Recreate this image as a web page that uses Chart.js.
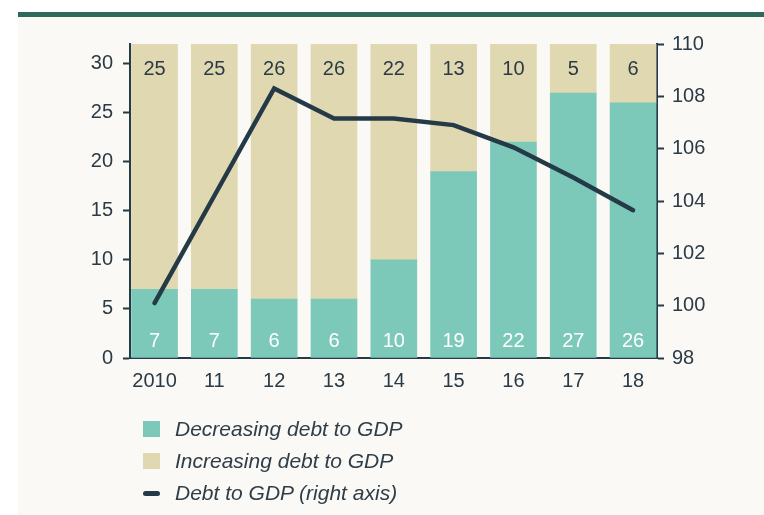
<!DOCTYPE html>
<html>
<head>
<meta charset="utf-8">
<script src="https://cdn.jsdelivr.net/npm/chart.js@4.4.1/dist/chart.umd.min.js"></script>
<style>
  html, body { margin: 0; padding: 0; background: #ffffff; }
  #wrap { position: relative; width: 764px; height: 515px; overflow: hidden; background: #ffffff; }
  #panel { position: absolute; left: 18px; top: 12px; width: 746px; height: 503px; background: #faf9f5; }
  #band { position: absolute; left: 18px; top: 12px; width: 746px; height: 5px; background: #2d6a5b; }
  #chart { position: absolute; left: 0; top: 0; width: 764px; height: 515px; }
  #legend { position: absolute; left: 143px; top: 417px; font-family: "Liberation Sans", Arial, sans-serif; font-style: italic; font-size: 21px; color: #2e3d48; }
  .row { position: relative; height: 32px; line-height: 24px; padding-left: 32px; white-space: nowrap; }
  .sw { position: absolute; left: 0; top: 4px; width: 17px; height: 16px; }
  .ln { position: absolute; left: 0; top: 10px; width: 17px; height: 5px; border-radius: 3px; }
</style>
</head>
<body>
<div id="wrap">
  <div id="panel"></div>
  <div id="band"></div>
  <canvas id="chart" width="764" height="515"></canvas>
  <div id="legend"></div>
</div>
<script>
// ---- data ----
const categories = ["2010", "11", "12", "13", "14", "15", "16", "17", "18"];
const decreasing = [7, 7, 6, 6, 10, 19, 22, 27, 26];
const increasing = [25, 25, 26, 26, 22, 13, 10, 5, 6];
const debtToGdp = [100.1, 104.2, 108.3, 107.15, 107.15, 106.9, 106.05, 104.9, 103.65];
const leftTicks = [0, 5, 10, 15, 20, 25, 30];
const rightTicks = [98, 100, 102, 104, 106, 108, 110];
const seriesNames = ["Decreasing debt to GDP", "Increasing debt to GDP", "Debt to GDP (right axis)"];

const TEAL = "#7cc9b9", BEIGE = "#e0d8b1", DARK = "#243b47", TEXT = "#2b3a45";
const FONT = "'Liberation Sans', Arial, sans-serif";

const pts = arr => arr.map((v, i) => ({ x: i, y: v }));

const labelPlugin = {
  id: "barLabels",
  afterDatasetsDraw(chart) {
    const ctx = chart.ctx, area = chart.chartArea;
    ctx.save();
    ctx.font = "20px " + FONT;
    ctx.textAlign = "center";
    ctx.textBaseline = "middle";
    const m0 = chart.getDatasetMeta(0), m1 = chart.getDatasetMeta(1);
    m0.data.forEach((el, i) => {
      ctx.fillStyle = "#ffffff";
      ctx.fillText(String(decreasing[i]), el.x, area.bottom - 17);
    });
    m1.data.forEach((el, i) => {
      ctx.fillStyle = TEXT;
      ctx.fillText(String(increasing[i]), el.x, area.top + 25);
    });
    ctx.restore();
  }
};

new Chart(document.getElementById("chart"), {
  type: "bar",
  data: {
    datasets: [
      { type: "bar", label: seriesNames[0], data: pts(decreasing), backgroundColor: TEAL, yAxisID: "y", order: 2, barThickness: 46 },
      { type: "bar", label: seriesNames[1], data: pts(increasing), backgroundColor: BEIGE, yAxisID: "y", order: 2, barThickness: 46 },
      { type: "line", label: seriesNames[2], data: pts(debtToGdp), borderColor: DARK, borderWidth: 4.5, pointRadius: 0,
        borderCapStyle: "round", borderJoinStyle: "miter", tension: 0, yAxisID: "y1", order: 0, fill: false }
    ]
  },
  options: {
    responsive: false,
    animation: false,
    maintainAspectRatio: false,
    layout: { padding: { top: 44, bottom: 117, left: 0, right: 0 } },
    plugins: { legend: { display: false }, tooltip: { enabled: false } },
    scales: {
      x: {
        type: "linear",
        stacked: true,
        offset: false,
        min: -0.41,
        max: 8.40,
        afterBuildTicks: s => { s.ticks = categories.map((_, i) => ({ value: i })); },
        afterFit: s => { s.height = 40; },
        grid: { display: false, drawTicks: false },
        border: { display: true, color: DARK, width: 2 },
        ticks: { padding: 11, color: TEXT, font: { family: FONT, size: 20 }, callback: v => categories[v], maxRotation: 0, autoSkip: false }
      },
      y: {
        position: "left",
        stacked: true,
        min: 0,
        max: 32,
        afterBuildTicks: s => { s.ticks = leftTicks.map(v => ({ value: v })); },
        afterFit: s => { s.width = 130; },
        grid: { drawOnChartArea: false, drawTicks: true, tickLength: 7, tickColor: DARK, tickWidth: 2 },
        border: { display: true, color: DARK, width: 2 },
        ticks: { padding: 10, color: TEXT, font: { family: FONT, size: 20 } }
      },
      y1: {
        position: "right",
        min: 98,
        max: 110,
        afterBuildTicks: s => { s.ticks = rightTicks.map(v => ({ value: v })); },
        afterFit: s => { s.width = 107; },
        grid: { drawOnChartArea: false, drawTicks: true, tickLength: 7, tickColor: DARK, tickWidth: 2 },
        border: { display: true, color: DARK, width: 2 },
        ticks: { padding: 8, color: TEXT, font: { family: FONT, size: 20 } }
      }
    }
  },
  plugins: [labelPlugin]
});

// HTML legend built from the series names
const legend = document.getElementById("legend");
const swatches = [["sw", TEAL], ["sw", BEIGE], ["ln", DARK]];
seriesNames.forEach((name, i) => {
  const row = document.createElement("div");
  row.className = "row";
  const sw = document.createElement("span");
  sw.className = swatches[i][0];
  sw.style.background = swatches[i][1];
  row.appendChild(sw);
  row.appendChild(document.createTextNode(name));
  legend.appendChild(row);
});
</script>
</body>
</html>
